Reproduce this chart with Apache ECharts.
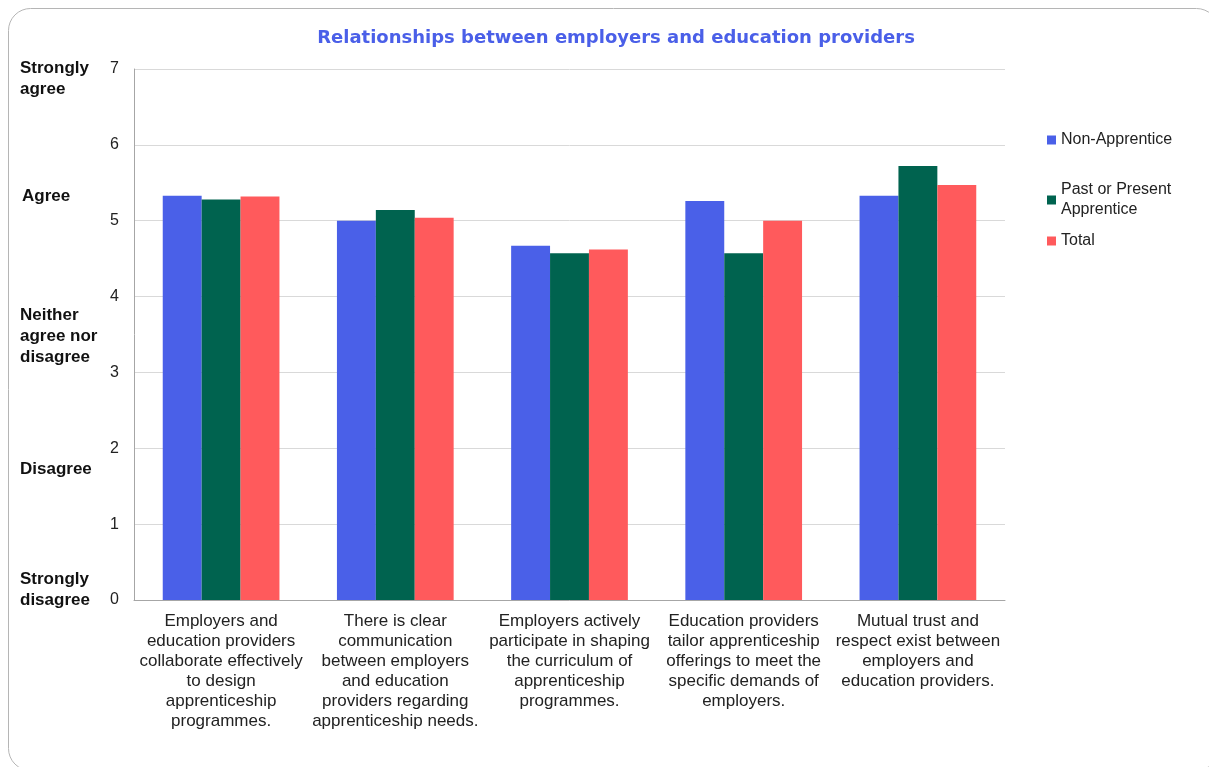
<!DOCTYPE html>
<html>
<head>
<meta charset="utf-8">
<script src="https://cdn.jsdelivr.net/npm/echarts@6/dist/echarts.min.js"></script>
<style>
html,body{margin:0;padding:0;background:#fff;}
#main{width:1209px;height:767px;}
</style>
</head>
<body>
<div id="main"></div>
<script>
const categories = [
  "Employers and\neducation providers\ncollaborate effectively\nto design\napprenticeship\nprogrammes.",
  "There is clear\ncommunication\nbetween employers\nand education\nproviders regarding\napprenticeship needs.",
  "Employers actively\nparticipate in shaping\nthe curriculum of\napprenticeship\nprogrammes.",
  "Education providers\ntailor apprenticeship\nofferings to meet the\nspecific demands of\nemployers.",
  "Mutual trust and\nrespect exist between\nemployers and\neducation providers."
];
const seriesNames = ["Non-Apprentice", "Past or Present Apprentice", "Total"];
const nonApprentice = [5.33, 5.00, 4.67, 5.26, 5.33];
const pastPresent = [5.28, 5.14, 4.57, 4.57, 5.72];
const total = [5.32, 5.04, 4.62, 5.00, 5.47];
const scaleLabels = ["Strongly\nagree", "Agree", "Neither\nagree nor\ndisagree", "Disagree", "Strongly\ndisagree"];

const colors = ["#4A60E8", "#00634F", "#FF5A5C"];
const FONT = "'Liberation Sans', Arial, sans-serif";

const chart = echarts.init(document.getElementById('main'), null, {renderer: 'canvas'});

const scalePos = [[20, 58], [22, 186], [20, 305], [20, 459], [20, 569]];

const option = {
  animation: false,
  color: colors,
  textStyle: {fontFamily: FONT},
  title: {
    text: "Relationships between employers and education providers",
    left: 611, textAlign: 'center', top: 24,
    textStyle: {fontFamily: "'DejaVu Sans', sans-serif", fontSize: 18, fontWeight: 'bold', color: '#4A5FE8'}
  },
  grid: {left: 134, right: 204, top: 69, bottom: 167, containLabel: false},
  legend: [
    {data: [seriesNames[0]], orient: 'vertical', left: 1042, top: 127, itemWidth: 9, itemHeight: 9, itemGap: 0,
     textStyle: {fontSize: 16, color: '#222', fontFamily: FONT}, icon: 'rect'},
    {data: [{name: seriesNames[1]}], orient: 'vertical', left: 1042, top: 175, itemWidth: 9, itemHeight: 9,
     formatter: function(n){ return "Past or Present\nApprentice"; },
     textStyle: {fontSize: 16, color: '#222', fontFamily: FONT, lineHeight: 20}, icon: 'rect'},
    {data: [seriesNames[2]], orient: 'vertical', left: 1042, top: 228, itemWidth: 9, itemHeight: 9,
     textStyle: {fontSize: 16, color: '#222', fontFamily: FONT}, icon: 'rect'}
  ],
  xAxis: {
    type: 'category',
    data: categories,
    axisLine: {lineStyle: {color: '#a6a6a6', width: 1}},
    axisTick: {show: false},
    axisLabel: {interval: 0, fontSize: 17, lineHeight: 20, color: '#222', margin: 11, fontFamily: FONT, align: 'center'}
  },
  yAxis: {
    type: 'value', min: 0, max: 7, interval: 1,
    axisLine: {show: true, lineStyle: {color: '#a6a6a6'}},
    axisTick: {show: false},
    axisLabel: {fontSize: 16, color: '#222', margin: 15, fontFamily: FONT},
    splitLine: {lineStyle: {color: '#d9d9d9', width: 1}}
  },
  series: [
    {name: seriesNames[0], type: 'bar', data: nonApprentice, barGap: '0%', barCategoryGap: '33%',
     itemStyle: {color: colors[0]}},
    {name: seriesNames[1], type: 'bar', data: pastPresent, barGap: '0%', barCategoryGap: '33%',
     itemStyle: {color: colors[1]}},
    {name: seriesNames[2], type: 'bar', data: total, barGap: '0%', barCategoryGap: '33%',
     itemStyle: {color: colors[2]}}
  ],
  graphic: [
    {type: 'rect', shape: {x: 8.5, y: 8.5, width: 1210, height: 762, r: 22}, z: -10,
     style: {fill: 'none', stroke: '#b5b5b5', lineWidth: 1}}
  ].concat(scaleLabels.map(function(t, i){
    return {type: 'text', left: scalePos[i][0], top: scalePos[i][1],
      style: {text: t, font: "bold 17px 'Liberation Sans', Arial, sans-serif", fill: '#111', lineHeight: 21}};
  }))
};
chart.setOption(option);
</script>
</body>
</html>
